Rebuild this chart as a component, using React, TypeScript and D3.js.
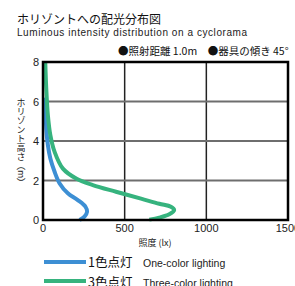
import React from 'react';
import * as d3 from 'd3';

// illuminance (lx), height (m)
const oneColor: [number, number][] = [
  [12, 6.2], [16, 5.47], [20, 4.63], [30, 3.79], [45, 3.11], [71, 2.44], [102, 1.85],
  [152, 1.35], [213, 1.01], [260, 0.67], [270, 0.42], [254, 0.17], [224, 0],
];
const threeColor: [number, number][] = [
  [14, 7.95], [20, 6.65], [30, 5.3], [45, 4.3], [71, 3.45], [122, 2.6], [203, 2.1],
  [305, 1.77], [447, 1.43], [600, 1.08], [712, 0.82], [783, 0.67], [803, 0.5],
  [773, 0.29], [712, 0.12], [651, 0.02],
];
const xTicks = [0, 500, 1000, 1500];
const yTicks = [0, 2, 4, 6, 8];

const JP = "'Noto Sans CJK JP', sans-serif";
const EN = "'Liberation Sans', Arial, sans-serif";

export default function App() {
  const margin = { top: 62, left: 43, right: 7, bottom: 66 };
  const width = 295, height = 286;

  const x = d3.scaleLinear().domain([0, 1500]).range([margin.left, width - margin.right]);
  const y = d3.scaleLinear().domain([0, 8]).range([height - margin.bottom, margin.top]);

  const line = d3.line<[number, number]>()
    .x(d => x(d[0]))
    .y(d => y(d[1]))
    .curve(d3.curveCatmullRom);

  const blue = '#3d8fd4';
  const green = '#36b37e';

  return (
    <svg width={width} height={height} style={{ position: 'absolute', left: 0, top: 0, background: '#fff' }}>
      <text x={17} y={24} fontFamily={JP} fontSize={12} fill="#111">ホリゾントへの配光分布図</text>
      <text x={17} y={35.5} fontFamily={EN} fontSize={10} fill="#222" textLength={230} lengthAdjust="spacing">Luminous intensity distribution on a cyclorama</text>
      <text x={118} y={55} fontFamily={JP} fontSize={10.5} fill="#111">●照射距離 1.0m　●器具の傾き 45°</text>

      {/* grid */}
      {xTicks.slice(1, -1).map(t => (
        <line key={'gx' + t} x1={x(t)} x2={x(t)} y1={y(8)} y2={y(0)} stroke="#222" strokeWidth={1.5} />
      ))}
      {yTicks.slice(1, -1).map(t => (
        <line key={'gy' + t} x1={x(0)} x2={x(1500)} y1={y(t)} y2={y(t)} stroke="#6e6e6e" strokeWidth={2} />
      ))}

      <path d={line(oneColor) || ''} fill="none" stroke={blue} strokeWidth={4} />
      <path d={line(threeColor) || ''} fill="none" stroke={green} strokeWidth={4} />

      <rect x={x(0)} y={y(8)} width={x(1500) - x(0)} height={y(0) - y(8)} fill="none" stroke="#000" strokeWidth={2.5} />

      {yTicks.map(t => (
        <text key={'yl' + t} x={x(0) - 4} y={y(t) + 4} textAnchor="end" fontFamily={EN} fontSize={11} fill="#222">{t}</text>
      ))}
      {xTicks.map(t => (
        <text key={'xl' + t} x={x(t)} y={y(0) + 12} textAnchor="middle" fontFamily={EN} fontSize={11} fill="#222">{t}</text>
      ))}
      <text x={155} y={246} textAnchor="middle" fontFamily={JP} fontSize={9} fill="#222">照度 (lx)</text>
      <text x={21} y={98} fontFamily={JP} fontSize={9} fill="#222" style={{ writingMode: 'vertical-rl' }}>ホリゾント高さ（m）</text>

      {/* legend */}
      <line x1={44} x2={86} y1={262} y2={262} stroke={blue} strokeWidth={4} />
      <text x={88} y={267} fontFamily={JP} fontSize={12.5} fill="#111">1色点灯</text>
      <text x={143} y={267} fontFamily={EN} fontSize={10.5} fill="#222">One-color lighting</text>
      <line x1={44} x2={86} y1={281} y2={281} stroke={green} strokeWidth={4} />
      <text x={88} y={287} fontFamily={JP} fontSize={12.5} fill="#111">3色点灯</text>
      <text x={143} y={287} fontFamily={EN} fontSize={10.5} fill="#222">Three-color lighting</text>
    </svg>
  );
}
